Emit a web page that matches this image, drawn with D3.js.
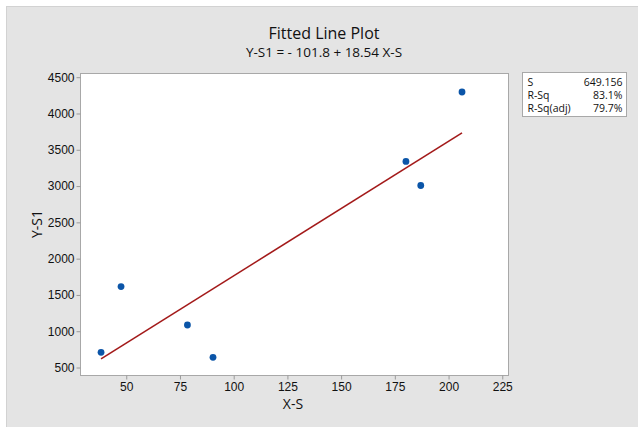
<!DOCTYPE html>
<html>
<head>
<meta charset="utf-8">
<script src="https://cdn.jsdelivr.net/npm/d3@7"></script>
<style>
  html, body { margin: 0; padding: 0; background: #ffffff; }
  svg { display: block; font-family: "Open Sans", "Noto Sans", sans-serif; }
</style>
</head>
<body>
<svg id="chart" width="638" height="427"></svg>
<script>
// ---- data ----
const xValues = [38.5, 47.8, 78.7, 90.6, 180.4, 187.3, 206.5];
const yValues = [703, 1608, 1079, 634, 3332, 3001, 4289];
const fitIntercept = -101.8;
const fitSlope = 18.54;
const xTicks = [50, 75, 100, 125, 150, 175, 200, 225];
const yTicks = [500, 1000, 1500, 2000, 2500, 3000, 3500, 4000, 4500];
const statLabels = ["S", "R-Sq", "R-Sq(adj)"];
const statValues = ["649.156", "83.1%", "79.7%"];
const titleText = "Fitted Line Plot";
const subtitleText = "Y-S1 = - 101.8 + 18.54 X-S";
const xLabel = "X-S";
const yLabel = "Y-S1";

const svg = d3.select("#chart");
const W = 638, H = 427;
const ink = "#111111";

// outer gray panel
svg.append("rect").attr("x", 6.5).attr("y", 6.5).attr("width", W).attr("height", H)
  .attr("fill", "#e4e4e4").attr("stroke", "#d2d2d2").attr("stroke-width", 1);

const plot = { left: 80, top: 73, right: 508, bottom: 375 };

const x = d3.scaleLinear().domain([28.7, 227.9]).range([plot.left, plot.right]);
const y = d3.scaleLinear().domain([390, 4551]).range([plot.bottom, plot.top]);

// plot area
svg.append("rect").attr("x", plot.left + 0.5).attr("y", plot.top + 0.5)
  .attr("width", plot.right - plot.left).attr("height", plot.bottom - plot.top)
  .attr("fill", "#ffffff").attr("stroke", "#a8a8a8").attr("stroke-width", 1);

// axes
const xAxis = svg.append("g").attr("transform", `translate(0.5,${plot.bottom + 0.5})`)
  .call(d3.axisBottom(x).tickValues(xTicks).tickSize(4).tickSizeOuter(0).tickPadding(3));
const yAxis = svg.append("g").attr("transform", `translate(${plot.left + 0.5},0.5)`)
  .call(d3.axisLeft(y).tickValues(yTicks).tickSize(4).tickSizeOuter(0).tickPadding(2).tickFormat(d3.format("d")));
[xAxis, yAxis].forEach(a => {
  a.select(".domain").remove();
  a.selectAll(".tick line").attr("stroke", "#9a9a9a");
  a.selectAll(".tick text").attr("fill", ink).style("font-size", "12px");
});

// fitted line
const xMin = d3.min(xValues), xMax = d3.max(xValues);
svg.append("line")
  .attr("x1", x(xMin)).attr("y1", y(fitIntercept + fitSlope * xMin))
  .attr("x2", x(xMax)).attr("y2", y(fitIntercept + fitSlope * xMax))
  .attr("stroke", "#a31a1a").attr("stroke-width", 1.6);

// points
svg.append("g").selectAll("circle").data(xValues).join("circle")
  .attr("cx", d => x(d)).attr("cy", (d, i) => y(yValues[i]))
  .attr("r", 3.4).attr("fill", "#0b55a8");

// titles
svg.append("text").attr("x", 324).attr("y", 39).attr("text-anchor", "middle")
  .style("font-size", "16px").attr("fill", ink).text(titleText);
svg.append("text").attr("x", 324).attr("y", 57).attr("text-anchor", "middle")
  .style("font-size", "13.5px").attr("fill", ink).text(subtitleText);

// axis labels
svg.append("text").attr("x", 293).attr("y", 409).attr("text-anchor", "middle")
  .style("font-size", "14px").attr("fill", ink).text(xLabel);
svg.append("text").attr("transform", "translate(42,224) rotate(-90)").attr("text-anchor", "middle")
  .style("font-size", "14px").attr("fill", ink).text(yLabel);

// stats box
const box = { x: 522.5, y: 72.5, w: 104, h: 44 };
svg.append("rect").attr("x", box.x).attr("y", box.y).attr("width", box.w).attr("height", box.h)
  .attr("fill", "#ffffff").attr("stroke", "#a8a8a8").attr("stroke-width", 1);
const rows = svg.append("g").selectAll("g").data(statLabels).join("g");
rows.append("text").attr("x", box.x + 5).attr("y", (d, i) => box.y + 13 + i * 13)
  .style("font-size", "10.5px").attr("fill", ink).text(d => d);
rows.append("text").attr("x", box.x + box.w - 4).attr("y", (d, i) => box.y + 13 + i * 13)
  .attr("text-anchor", "end").style("font-size", "10.5px").attr("fill", ink)
  .text((d, i) => statValues[i]);
</script>
</body>
</html>
